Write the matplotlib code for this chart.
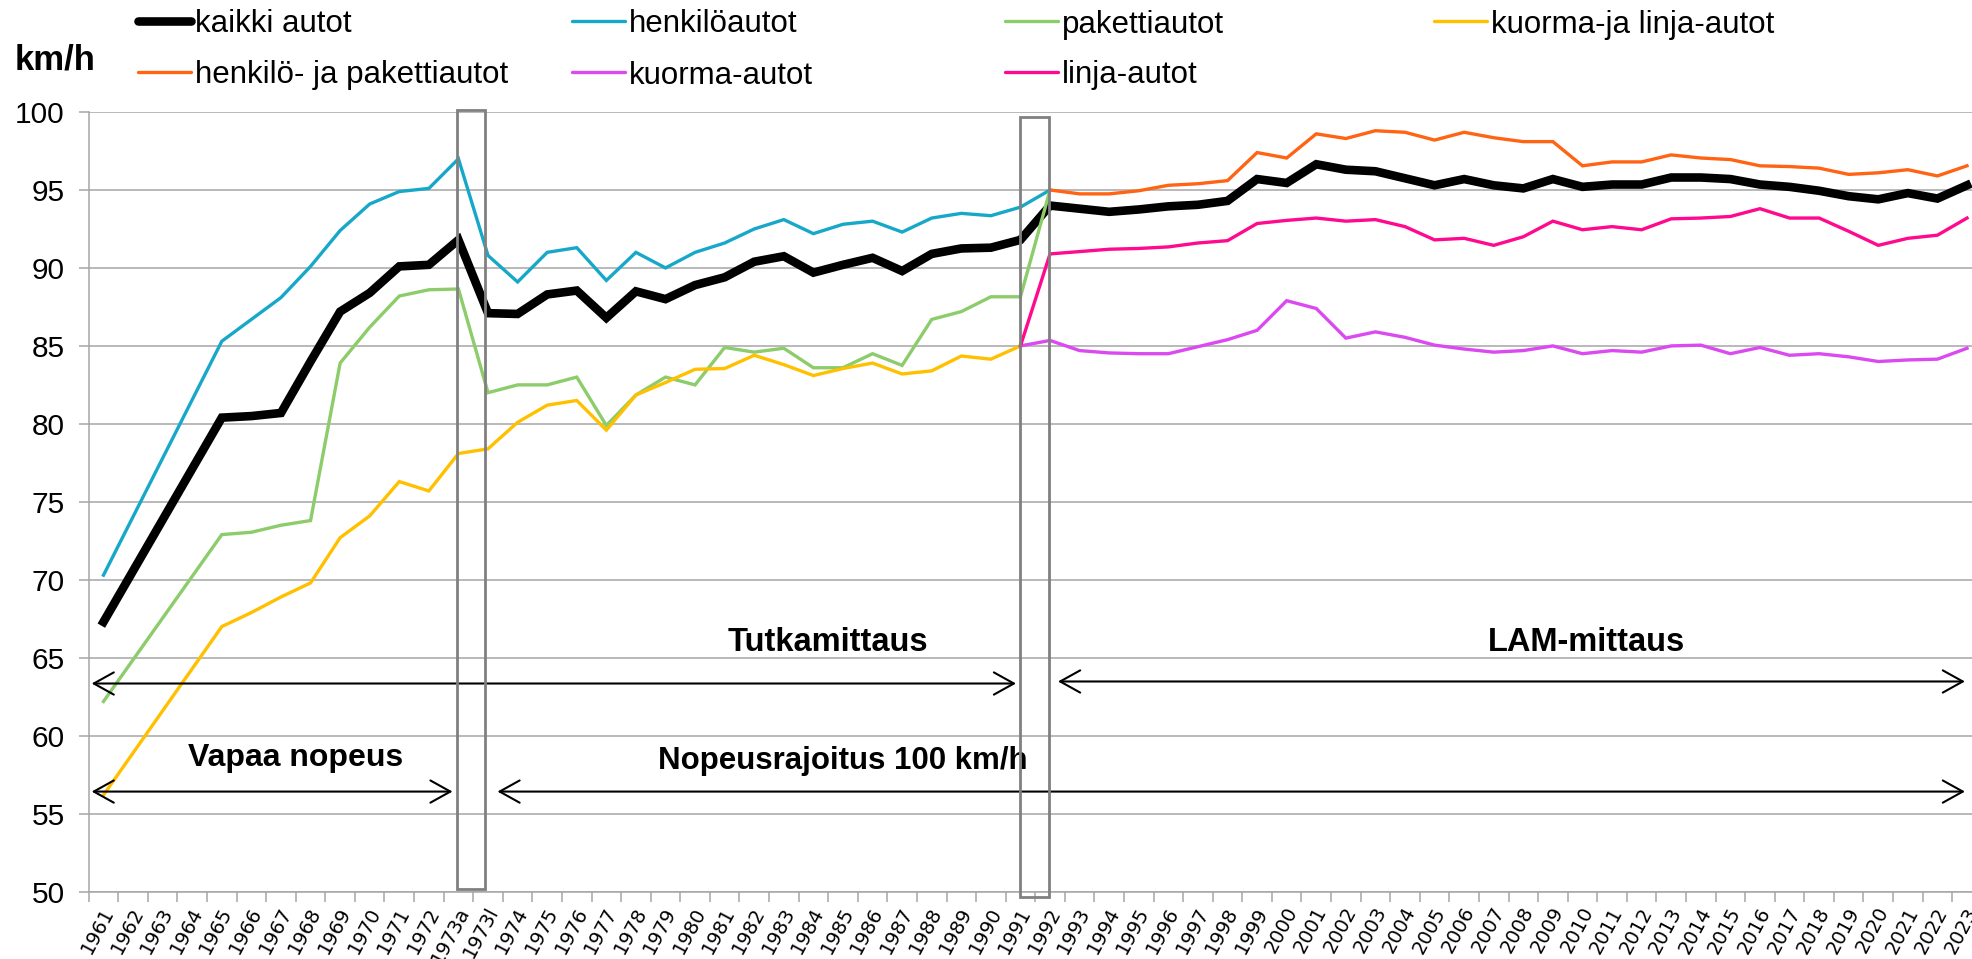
import numpy as np
import matplotlib
matplotlib.use("Agg")
import matplotlib.pyplot as plt
from matplotlib.lines import Line2D
from matplotlib.patches import Rectangle
from matplotlib.transforms import ScaledTranslation

# categories (1973 measured twice: a = alku, l = loppu)
years = [str(y) for y in range(1961, 1973)] + ["1973a", "1973l"] + [str(y) for y in range(1974, 2024)]

nan = np.nan
# km/h, each series starts at the given year
kaikki_start = "1961"
kaikki = [67.3, nan, nan, nan, 80.4, 80.5, 80.7, 84.0, 87.2, 88.4, 90.1, 90.2, 91.8, 87.1,
          87.05, 88.3, 88.55, 86.8, 88.5, 88.0, 88.9, 89.4, 90.4, 90.75, 89.7, 90.2, 90.65, 89.8,
          90.9, 91.25, 91.3, 91.8, 94.0, 93.8, 93.6, 93.75, 93.95, 94.05, 94.3, 95.7, 95.45, 96.65,
          96.3, 96.2, 95.75, 95.3, 95.7, 95.3, 95.1, 95.7, 95.2, 95.35, 95.35, 95.8, 95.8, 95.7,
          95.35, 95.2, 94.95, 94.6, 94.4, 94.8, 94.45, 95.3]

henkilo_start = "1961"
henkilo = [70.3, nan, nan, nan, 85.3, 86.7, 88.1, 90.1, 92.4, 94.1, 94.9, 95.1, 97.0, 90.8,
           89.1, 91.0, 91.3, 89.2, 91.0, 90.0, 91.0, 91.6, 92.5, 93.1, 92.2, 92.8, 93.0, 92.3,
           93.2, 93.5, 93.35, 93.9, 95.0]

paketti_start = "1961"
paketti = [62.2, nan, nan, nan, 72.9, 73.05, 73.5, 73.8, 83.9, 86.2, 88.2, 88.6, 88.65, 82.0,
           82.5, 82.5, 83.0, 79.9, 81.85, 83.0, 82.5, 84.9, 84.6, 84.85, 83.6, 83.6, 84.5, 83.75,
           86.7, 87.2, 88.15, 88.15, 95.0]

kuorma_linja_start = "1961"
kuorma_linja = [56.2, nan, nan, nan, 67.0, 67.9, 68.9, 69.8, 72.7, 74.1, 76.3, 75.7, 78.1, 78.4,
                80.1, 81.2, 81.5, 79.6, 81.85, 82.65, 83.5, 83.55, 84.4, 83.8, 83.1, 83.55, 83.9,
                83.2, 83.4, 84.35, 84.15, 85.0]

henk_paketti_start = "1992"
henk_paketti = [95.0, 94.75, 94.75, 94.95, 95.3, 95.4, 95.6, 97.4, 97.05, 98.6, 98.3, 98.8, 98.7,
                98.2, 98.7, 98.35, 98.1, 98.1, 96.55, 96.8, 96.8, 97.25, 97.05, 96.95, 96.55, 96.5,
                96.4, 96.0, 96.1, 96.3, 95.9, 96.55]

kuorma_start = "1991"
kuorma = [85.0, 85.35, 84.7, 84.55, 84.5, 84.5, 84.95, 85.4, 86.0, 87.9, 87.4, 85.5, 85.9, 85.55,
          85.05, 84.8, 84.6, 84.7, 85.0, 84.5, 84.7, 84.6, 85.0, 85.05, 84.5, 84.9, 84.4, 84.5,
          84.3, 84.0, 84.1, 84.15, 84.85]

linja_start = "1991"
linja = [85.0, 90.9, 91.05, 91.2, 91.25, 91.35, 91.6, 91.75, 92.85, 93.05, 93.2, 93.0, 93.1, 92.65,
         91.8, 91.9, 91.45, 92.0, 93.0, 92.45, 92.65, 92.45, 93.15, 93.2, 93.3, 93.8, 93.2, 93.2,
         92.35, 91.45, 91.9, 92.1, 93.2]

W, H = 1972, 959


def place(vals, start):
    full = np.full(len(years), np.nan)
    i0 = years.index(start)
    full[i0:i0 + len(vals)] = vals
    return full


series = [
    ("kaikki autot", kaikki, kaikki_start, "#000000", 6.2),
    ("henkilöautot", henkilo, henkilo_start, "#17a8c9", 2.4),
    ("pakettiautot", paketti, paketti_start, "#8ccc6a", 2.4),
    ("kuorma-ja linja-autot", kuorma_linja, kuorma_linja_start, "#ffc000", 2.4),
    ("henkilö- ja pakettiautot", henk_paketti, henk_paketti_start, "#ff6314", 2.4),
    ("kuorma-autot", kuorma, kuorma_start, "#da4af0", 2.4),
    ("linja-autot", linja, linja_start, "#ff0a8e", 2.4),
]

fig = plt.figure(figsize=(W / 100, H / 100), dpi=100)
ax = fig.add_axes([88.7 / W, 0.0702, (1981.8 - 88.7) / W, 0.813])

x = np.arange(len(years))
for label, vals, start, color, lw in series:
    y = place(vals, start)
    m = np.isfinite(y)
    ax.plot(x[m], y[m], color=color, lw=lw, solid_joinstyle="miter", label=label)

ax.set_xlim(-0.5, len(years) - 0.5)
ax.set_ylim(50, 100)
ax.set_yticks(np.arange(50, 101, 5))
ax.yaxis.grid(True, color="#a6a6a6", lw=1.1)
ax.set_axisbelow(True)
for s in ["top", "right"]:
    ax.spines[s].set_visible(False)
for s in ["left", "bottom"]:
    ax.spines[s].set_color("#a6a6a6")
    ax.spines[s].set_linewidth(1.1)

ax.tick_params(axis="y", length=7.2, width=1.1, color="#a6a6a6", pad=10, labelsize=21.5)
for t in ax.get_yticklabels():
    t.set_family("Liberation Sans")

ax.set_xticks(x)
ax.set_xticklabels(years, rotation=62, ha="right", va="center", rotation_mode="anchor",
                   fontsize=14, family="DejaVu Sans")
ax.set_xticks(np.arange(-0.5, len(years), 1), minor=True)
ax.tick_params(axis="x", which="major", length=0, pad=12)
ax.tick_params(axis="x", which="minor", length=7.2, width=1.1, color="#a6a6a6")
shift = ScaledTranslation(6 / 100, 0, fig.dpi_scale_trans)
for t in ax.get_xticklabels():
    t.set_transform(t.get_transform() + shift)

# measurement-change boxes
ax.add_patch(Rectangle((11.95, 50.2), 0.95, 49.95, fill=False, ec="#808080", lw=2, clip_on=False, zorder=5))
ax.add_patch(Rectangle((31.0, 49.65), 0.95, 50.0, fill=False, ec="#808080", lw=2, clip_on=False, zorder=5))

arrow = dict(arrowstyle="<->,head_length=0.9,head_width=0.5", color="black", lw=1.5,
             shrinkA=0, shrinkB=0, mutation_scale=16)
for x0, x1, yy in [(-0.4, 30.85, 63.35), (32.27, 62.93, 63.48),
                   (-0.4, 11.8, 56.42), (13.32, 62.93, 56.42)]:
    ax.annotate("", xy=(x1, yy), xytext=(x0, yy), arrowprops=arrow, annotation_clip=False)

bold = dict(fontweight="bold", family="Liberation Sans", ha="center", va="center")
ax.text(24.49, 66.0, "Tutkamittaus", fontsize=23.5, **bold)
ax.text(50.12, 66.0, "LAM-mittaus", fontsize=23.5, **bold)
ax.text(6.5, 58.6, "Vapaa nopeus", fontsize=23, **bold)
ax.text(25.0, 58.35, "Nopeusrajoitus 100 km/h", fontsize=22.5, **bold)

fig.text(15 / W, 1 - 60 / H, "km/h", fontsize=25, fontweight="bold", family="Liberation Sans",
         ha="left", va="center")

# legend, two rows like the original
leg_x = [138, 572, 1005, 1434]
leg_y = [21, 72]
slots = [(0, 0), (1, 0), (2, 0), (3, 0), (0, 1), (1, 1), (2, 1)]
for (label, vals, start, color, lw), (c, r) in zip(series, slots):
    x0 = leg_x[c]
    yy = 1 - leg_y[r] / H
    fig.add_artist(Line2D([x0 / W, (x0 + 53) / W], [yy, yy], transform=fig.transFigure,
                          color=color, lw=lw, solid_capstyle="round"))
    fig.text((x0 + 57) / W, yy, label, fontsize=22.5, family="Liberation Sans", ha="left",
             va="center_baseline")

fig.savefig("out.png", dpi=100)
